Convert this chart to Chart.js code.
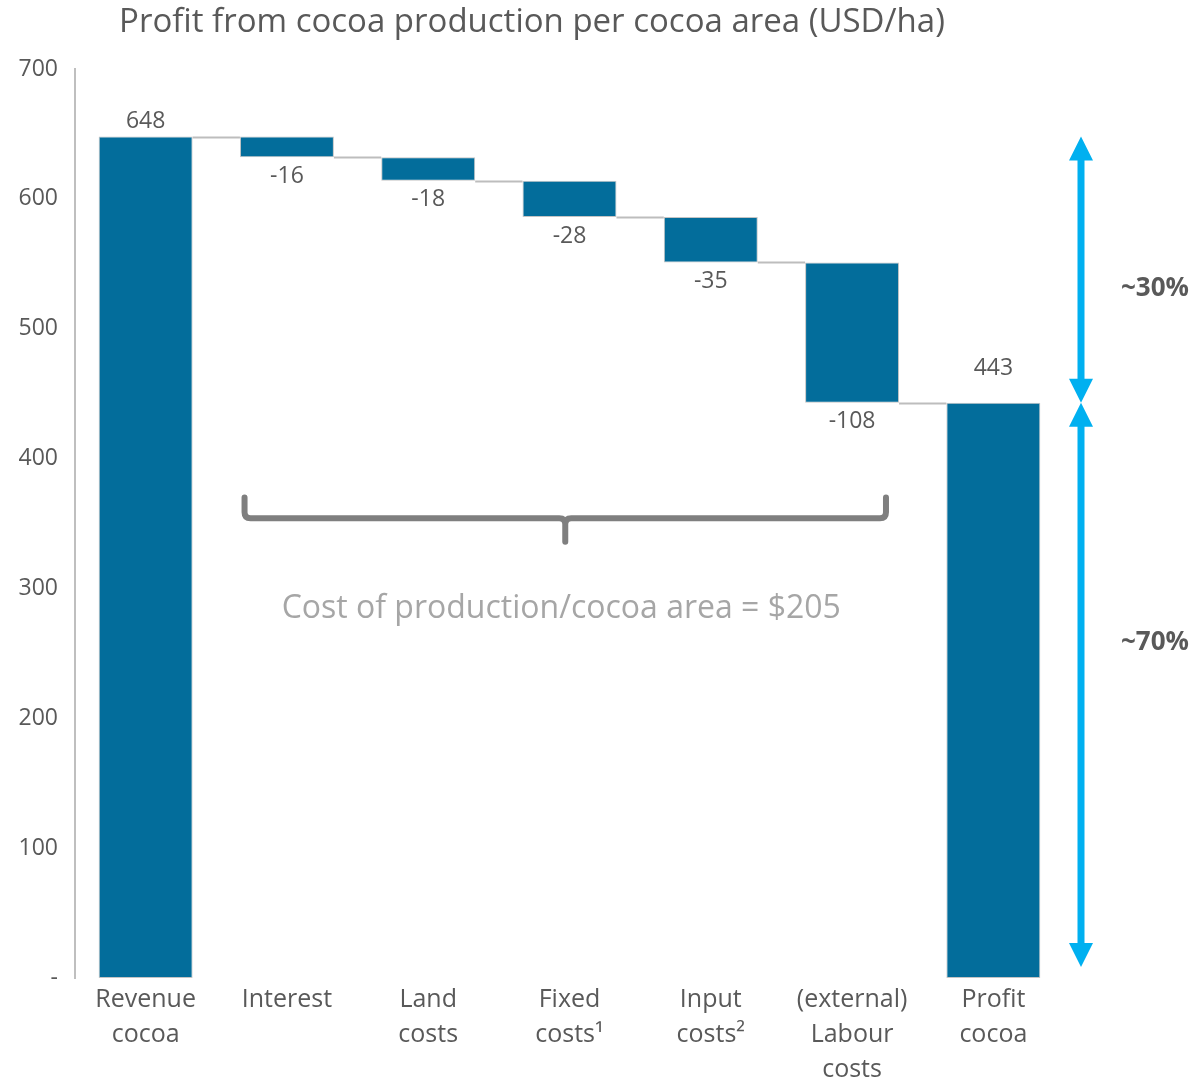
<!DOCTYPE html>
<html><head><meta charset="utf-8">
<script src="https://cdn.jsdelivr.net/npm/chart.js@4.4.1/dist/chart.umd.min.js"></script>
<style>html,body{margin:0;padding:0;background:#fff}#wrap{width:1195px;height:1081px;position:relative}</style>
</head><body><div id="wrap"><canvas id="c" width="1195" height="1081"></canvas></div>
<script>
// ---- data ----
const categories = [['Revenue','cocoa'],['Interest'],['Land','costs'],['Fixed','costs\u00B9'],['Input','costs\u00B2'],['(external)','Labour','costs'],['Profit','cocoa']];
const steps = [648, -16, -18, -28, -35, -108, 443];
const kinds = ['total','delta','delta','delta','delta','delta','total'];
const yMin = 0, yMax = 700, yStep = 100;
const titleText = 'Profit from cocoa production per cocoa area (USD/ha)';
const costNote = 'Cost of production/cocoa area = $205';
const shareLabels = ['~30%', '~70%'];

// ---- derived waterfall ranges ----
let run = 0;
const ranges = [], levels = [];
steps.forEach((v, i) => {
  if (kinds[i] === 'total') { run = v; ranges.push([0, v]); }
  else { ranges.push([run + v, run]); run += v; }
  levels.push(run);
});

const FONT = "'Open Sans', 'Noto Sans', sans-serif";
const TXT = '#595959';
const BAR = '#036d9b';
const ARROW = '#00b0f0';

function arrowHead(ctx, x, tipY, dir) { // dir: -1 up, +1 down
  const hw = 12, hh = 24;
  ctx.beginPath();
  ctx.moveTo(x, tipY);
  ctx.lineTo(x - hw, tipY - dir * hh);
  ctx.lineTo(x + hw, tipY - dir * hh);
  ctx.closePath();
  ctx.fill();
}
function dblArrow(ctx, x, yTop, yBot) {
  ctx.fillStyle = ARROW;
  ctx.fillRect(x - 3.5, yTop + 20, 7, (yBot - yTop) - 40);
  arrowHead(ctx, x, yTop, -1);
  arrowHead(ctx, x, yBot, 1);
}

const annot = {
  id: 'annot',
  afterDatasetsDraw(chart) {
    const ctx = chart.ctx, ys = chart.scales.y, xs = chart.scales.x;
    const bars = chart.getDatasetMeta(0).data;
    const ca = chart.chartArea;
    ctx.save();
    // connectors
    ctx.strokeStyle = '#bdbdbd'; ctx.lineWidth = 2;
    for (let i = 0; i < bars.length - 1; i++) {
      const y = Math.round(ys.getPixelForValue(levels[i])) + 0.5;
      const x1 = bars[i].x + bars[i].width / 2, x2 = bars[i + 1].x - bars[i + 1].width / 2;
      ctx.beginPath(); ctx.moveTo(x1, y); ctx.lineTo(x2, y); ctx.stroke();
    }
    // value labels
    ctx.fillStyle = TXT; ctx.font = '23px ' + FONT; ctx.textAlign = 'center'; ctx.textBaseline = 'middle';
    bars.forEach((b, i) => {
      if (kinds[i] === 'total') {
        const off = i === bars.length - 1 ? 34 : 15;
        ctx.fillText(String(steps[i]), b.x, ys.getPixelForValue(ranges[i][1]) - off);
      } else {
        ctx.fillText(String(steps[i]), b.x, ys.getPixelForValue(ranges[i][0]) + 19);
      }
    });
    // brace
    const step = xs.getPixelForValue(1) - xs.getPixelForValue(0);
    const L = xs.getPixelForValue(1) - 0.3 * step, R = xs.getPixelForValue(5) + 0.24 * step;
    const C = (L + R) / 2;
    const yT = ys.getPixelForValue(370), yH = ys.getPixelForValue(354), yTip = ys.getPixelForValue(336);
    ctx.strokeStyle = '#7f7f7f'; ctx.lineWidth = 6; ctx.lineCap = 'round'; ctx.lineJoin = 'round';
    ctx.beginPath();
    ctx.moveTo(L, yT); ctx.lineTo(L, yH - 6); ctx.quadraticCurveTo(L, yH, L + 6, yH);
    ctx.lineTo(C - 6, yH); ctx.quadraticCurveTo(C, yH, C, yH + 6); ctx.lineTo(C, yTip);
    ctx.moveTo(R, yT); ctx.lineTo(R, yH - 6); ctx.quadraticCurveTo(R, yH, R - 6, yH);
    ctx.lineTo(C + 6, yH); ctx.quadraticCurveTo(C, yH, C, yH + 6);
    ctx.stroke();
    // cost note
    ctx.fillStyle = '#a6a6a6'; ctx.font = '32px ' + FONT; ctx.textAlign = 'center';
    ctx.fillText(costNote, C - 4, ys.getPixelForValue(284));
    // arrows
    const ax = ca.right + 17;
    const yA = ys.getPixelForValue(steps[0]), yB = ys.getPixelForValue(steps[6]), yC = ys.getPixelForValue(yMin) - 11;
    dblArrow(ctx, ax, yA, yB);
    dblArrow(ctx, ax, yB, yC);
    // share labels
    ctx.fillStyle = TXT; ctx.font = 'bold 26px ' + FONT; ctx.textAlign = 'left';
    ctx.fillText(shareLabels[0], ax + 40, ys.getPixelForValue(531));
    ctx.fillText(shareLabels[1], ax + 40, ys.getPixelForValue(258));
    // title
    ctx.font = '33px ' + FONT; ctx.textAlign = 'center'; ctx.fillStyle = TXT;
    ctx.fillText(titleText, ca.right / 2, 23);
    ctx.restore();
  }
};

new Chart(document.getElementById('c'), {
  type: 'bar',
  data: {
    labels: categories,
    datasets: [{
      data: ranges,
      backgroundColor: BAR,
      borderColor: '#c4c4c4',
      borderWidth: 1,
      borderSkipped: false,
      categoryPercentage: 1,
      barPercentage: 0.665
    }]
  },
  options: {
    responsive: false,
    animation: false,
    devicePixelRatio: 1,
    layout: { padding: { top: 69, right: 131, left: 0, bottom: 0 } },
    plugins: { legend: { display: false }, title: { display: false }, tooltip: { enabled: false } },
    scales: {
      x: {
        grid: { display: false, drawTicks: false },
        border: { display: false },
        ticks: { color: TXT, font: { family: FONT, size: 25, lineHeight: 1.4 }, padding: 4, maxRotation: 0, autoSkip: false },
        afterFit(s) { s.height = 103; }
      },
      y: {
        min: yMin, max: yMax,
        grid: { display: false, drawTicks: false },
        border: { display: true, color: '#bfbfbf', width: 2 },
        ticks: { stepSize: yStep, color: TXT, font: { family: FONT, size: 23 }, padding: 17,
          callback: v => v === 0 ? '-' : v },
        afterFit(s) { s.width = 75; }
      }
    }
  },
  plugins: [annot]
});
</script></body></html>
